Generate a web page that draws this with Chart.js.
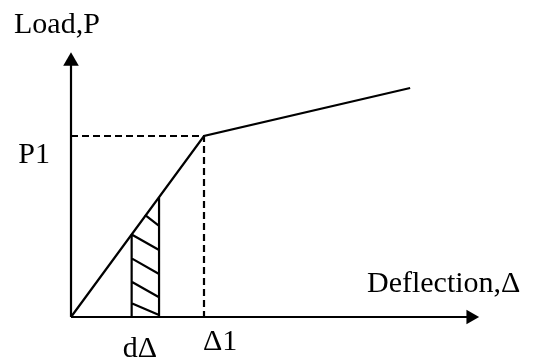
<!DOCTYPE html>
<html>
<head>
<meta charset="utf-8">
<script src="https://cdn.jsdelivr.net/npm/chart.js@4"></script>
<style>
  html, body { margin: 0; padding: 0; background: #fff; }
  #wrap { width: 533px; height: 362px; }
</style>
</head>
<body>
<div id="wrap"><canvas id="myChart" width="533" height="362"></canvas></div>
<script>
// load-deflection curve (deflection in units of Δ1, load in units of P1)
const curveX = [0, 1, 2.55];
const curveY = [0, 1, 1.265];
const yieldDeflection = 1;   // Δ1
const yieldLoad = 1;         // P1

// strip dΔ under the elastic part
const stripX = [0.456, 0.662];
const hatchX0 = [0.556, 0.456, 0.456, 0.456, 0.456];
const hatchY0 = [0.564, 0.456, 0.324, 0.195, 0.076];
const hatchY1 = [0.504, 0.370, 0.238, 0.109, 0.011];

// axis ends (arrow heads)
const xAxisEnd = 3.005;
const yAxisEnd = 1.413;

const labels = ['Load,P', 'P1', 'Deflection,Δ', 'dΔ', 'Δ1'];

document.addEventListener('DOMContentLoaded', function() {
  const ctx = document.getElementById('myChart');

  const curve = curveX.map((x, i) => ({ x: x, y: curveY[i] }));
  const hatch = [];
  stripX.forEach(x => { hatch.push({ x: x, y: 0 }, { x: x, y: x }, { x: x, y: null }); });
  hatchX0.forEach((x, i) => {
    hatch.push({ x: x, y: hatchY0[i] }, { x: stripX[1], y: hatchY1[i] }, { x: x, y: null });
  });

  const textPlugin = {
    id: 'texts',
    afterDraw(chart) {
      const c = chart.ctx;
      const xs = chart.scales.x, ys = chart.scales.y;
      const x0 = xs.getPixelForValue(0), y0 = ys.getPixelForValue(0);
      c.save();
      c.fillStyle = '#000';
      c.font = '30px "Liberation Serif", "Times New Roman", serif';
      c.textBaseline = 'alphabetic';
      c.textAlign = 'left';
      c.fillText(labels[0], x0 - 57, 33);
      c.textAlign = 'right';
      c.fillText(labels[1], x0 - 21, ys.getPixelForValue(yieldLoad) + 27);
      c.textAlign = 'left';
      c.fillText(labels[2], 367, y0 - 25);
      c.fillText(labels[3], xs.getPixelForValue(stripX[0]) - 9, y0 + 40);
      c.fillText(labels[4], xs.getPixelForValue(yieldDeflection) - 1, y0 + 33);
      c.restore();
    }
  };

  const line = { showLine: true, pointRadius: 0, borderColor: '#000', borderWidth: 2.2, clip: false, fill: false };

  new Chart(ctx, {
    type: 'scatter',
    data: {
      datasets: [
        Object.assign({}, line, { data: [{ x: 0, y: 0 }, { x: 0, y: yAxisEnd }] }),
        Object.assign({}, line, { data: [{ x: 0, y: 0 }, { x: xAxisEnd, y: 0 }] }),
        Object.assign({}, line, { data: [{ x: 0, y: yieldLoad }, { x: yieldDeflection, y: yieldLoad }, { x: yieldDeflection, y: 0 }], borderDash: [7, 4] }),
        Object.assign({}, line, { data: curve }),
        Object.assign({}, line, { data: hatch, spanGaps: false }),
        {
          data: [{ x: 0, y: yAxisEnd }],
          pointStyle: 'triangle', pointRadius: 9, rotation: 0,
          backgroundColor: '#000', borderColor: '#000', borderWidth: 0, clip: false
        },
        {
          data: [{ x: xAxisEnd, y: 0 }],
          pointStyle: 'triangle', pointRadius: 8.5, rotation: 90,
          backgroundColor: '#000', borderColor: '#000', borderWidth: 0, clip: false
        }
      ]
    },
    options: {
      responsive: false,
      animation: false,
      devicePixelRatio: 1,
      layout: { padding: { left: 71, right: 49.7, top: 45.5, bottom: 45 } },
      plugins: { legend: { display: false }, tooltip: { enabled: false } },
      scales: {
        x: { type: 'linear', min: 0, max: 3.1, display: false },
        y: { type: 'linear', min: 0, max: 1.5, display: false }
      }
    },
    plugins: [textPlugin]
  });
});
</script>
</body>
</html>
